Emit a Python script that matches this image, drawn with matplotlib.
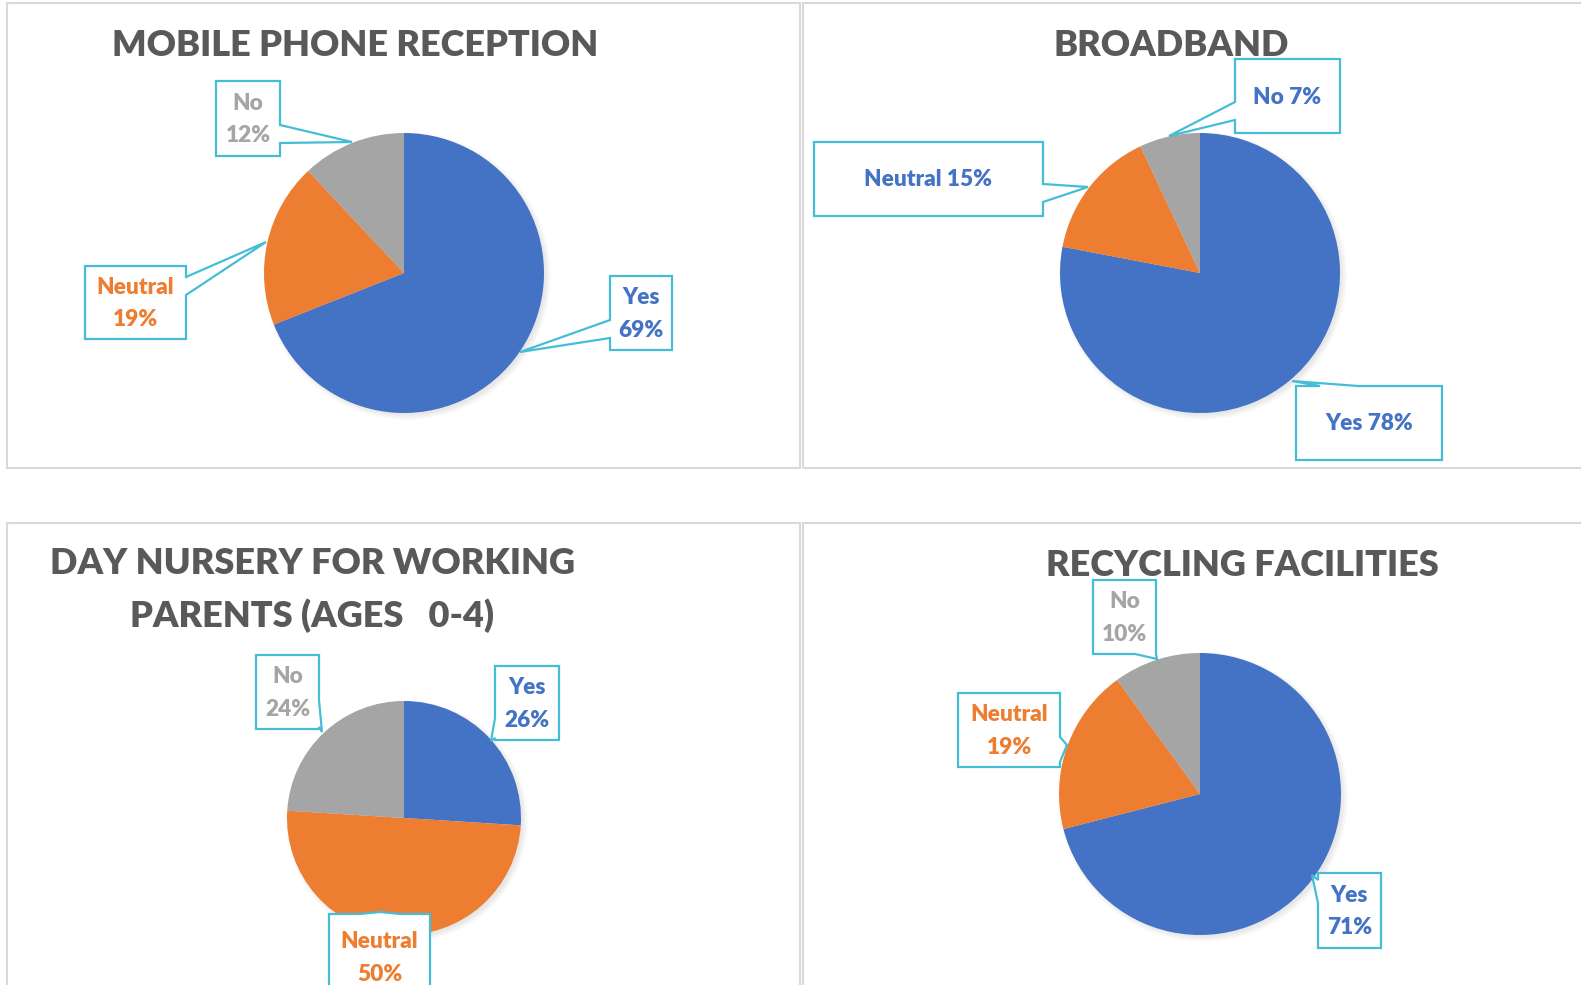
import matplotlib.pyplot as plt
from matplotlib.patches import Polygon, Rectangle, Circle
import numpy as np

W, H = 1581, 985

categories = ["Yes", "Neutral", "No"]
mobile = [69, 19, 12]
broadband = [78, 15, 7]
nursery = [26, 50, 24]
recycling = [71, 19, 10]

titles = ["MOBILE PHONE RECEPTION", "BROADBAND",
          "DAY NURSERY FOR WORKING\nPARENTS (AGES   0-4)", "RECYCLING FACILITIES"]

colors = ["#4472C4", "#ED7D31", "#A5A5A5"]
edge = "#46BDD6"
title_col = "#595959"
plt.rcParams['font.family'] = ['Lato', 'DejaVu Sans']

fig = plt.figure(figsize=(W / 100, H / 100), dpi=100)
ax = fig.add_axes([0, 0, 1, 1])


def Y(y):
    return H - y


def callout(box, side, base, tip, text, color):
    x0, y0, x1, y1 = box
    b0, b1 = base
    tx, ty = tip
    # go round the box and slot the pointer into the given side
    if side == "right":
        pts = [(x0, y0), (x1, y0), (x1, b0), (tx, ty), (x1, b1), (x1, y1), (x0, y1)]
    elif side == "left":
        pts = [(x0, y0), (x1, y0), (x1, y1), (x0, y1), (x0, b1), (tx, ty), (x0, b0)]
    elif side == "top":
        pts = [(x0, y0), (b0, y0), (tx, ty), (b1, y0), (x1, y0), (x1, y1), (x0, y1)]
    else:
        pts = [(x0, y0), (x1, y0), (x1, y1), (b1, y1), (tx, ty), (b0, y1), (x0, y1)]
    ax.add_patch(Polygon([(px, Y(py)) for px, py in pts], closed=True,
                         facecolor="white", edgecolor=edge, lw=1.6, zorder=5))
    ax.text((x0 + x1) / 2, Y((y0 + y1) / 2 + 1), text, ha="center", va="center",
            color=color, fontsize=16.3, fontweight="heavy", zorder=6,
            linespacing=1.68)


def pie(vals, cx, cy, r):
    # soft drop shadow behind the pie
    for k in range(8):
        ax.add_patch(Circle((cx + 3, Y(cy + 3)), r + 4 - k * 0.8, color="black",
                            alpha=0.012, lw=0, zorder=1))
    ax.pie(vals, colors=colors, startangle=90, counterclock=False,
           center=(cx, Y(cy)), radius=r, wedgeprops=dict(lw=0, zorder=2))


def title(x, y, s, ls=1.2):
    ax.text(x, Y(y), s, ha="center", va="center", color=title_col,
            fontsize=26, fontweight="heavy", linespacing=ls)


# panel frames
for (x0, y0, x1, y1) in [(7, 3, 800, 468), (803, 3, 1600, 468),
                         (7, 523, 800, 1000), (803, 523, 1600, 1000)]:
    ax.add_patch(Rectangle((x0, Y(y1)), x1 - x0, y1 - y0, fill=False,
                           edgecolor="#D9D9D9", lw=1.5, zorder=0))

# mobile phone reception
pie(mobile, 404, 273, 140)
title(355, 45, titles[0])
callout((610, 276, 672, 350), "left", (320, 338), (520, 352),
        f"{categories[0]}\n{mobile[0]}%", colors[0])
callout((85, 266, 186, 339), "right", (277, 295), (266, 242),
        f"{categories[1]}\n{mobile[1]}%", colors[1])
callout((216, 81, 280, 156), "right", (125, 143), (352, 142),
        f"{categories[2]}\n{mobile[2]}%", colors[2])

# broadband
pie(broadband, 1200, 273, 140)
title(1171, 45, titles[1])
callout((1296, 386, 1442, 460), "top", (1320, 1358), (1292, 381),
        f"{categories[0]} {broadband[0]}%", colors[0])
callout((814, 142, 1043, 216), "right", (184, 202), (1088, 187),
        f"{categories[1]} {broadband[1]}%", colors[0])
callout((1235, 59, 1340, 133), "left", (102, 120), (1169, 136),
        f"{categories[2]} {broadband[2]}%", colors[0])

# day nursery
pie(nursery, 404, 818, 117)
title(312, 590, titles[2], ls=1.62)
callout((495, 666, 559, 740), "left", (718, 738), (491, 741),
        f"{categories[0]}\n{nursery[0]}%", colors[0])
callout((329, 914, 430, 1000), "top", (360, 400), (380, 912),
        f"{categories[1]}\n{nursery[1]}%", colors[1])
callout((256, 655, 319, 729), "right", (700, 727), (322, 732),
        f"{categories[2]}\n{nursery[2]}%", colors[2])

# recycling
pie(recycling, 1200, 794, 141)
title(1242, 565, titles[3])
callout((1318, 873, 1381, 948), "left", (880, 903), (1312, 875),
        f"{categories[0]}\n{recycling[0]}%", colors[0])
callout((958, 693, 1060, 767), "right", (737, 762), (1067, 745),
        f"{categories[1]}\n{recycling[1]}%", colors[1])
callout((1093, 580, 1156, 654), "bottom", (1135, 1156), (1157, 659),
        f"{categories[2]}\n{recycling[2]}%", colors[2])

ax.set_xlim(0, W)
ax.set_ylim(0, H)
ax.set_aspect("auto")
ax.set_axis_off()

fig.savefig("out.png", dpi=100)
